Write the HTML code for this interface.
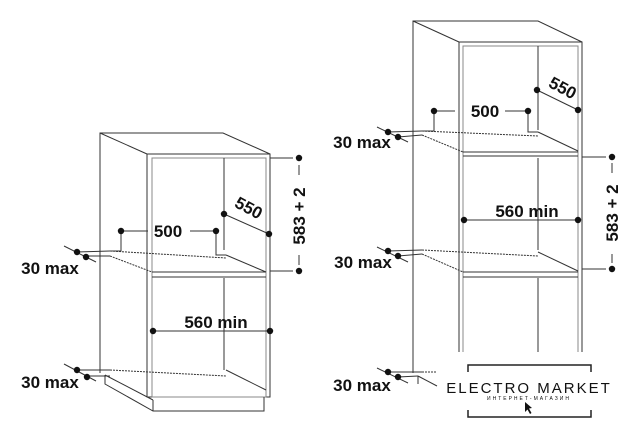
<!DOCTYPE html>
<html><head><meta charset="utf-8"><style>
html,body{margin:0;padding:0;background:#fff}
svg{display:block}
text{font-family:"Liberation Sans",sans-serif;font-weight:bold;fill:#111}
</style></head><body>
<svg width="636" height="431" viewBox="0 0 636 431" xmlns="http://www.w3.org/2000/svg">
<g stroke="#333" stroke-width="1" fill="none">
<!-- LEFT CABINET -->
<polyline points="100,373 100,133 223,133 270,154"/>
<line x1="100" y1="133" x2="147" y2="154"/>
<rect x="147" y="154" width="123" height="243"/>
<rect x="152" y="158" width="114" height="239" stroke="#888"/>
<line x1="224" y1="158" x2="224" y2="250"/>
<line x1="224" y1="278" x2="224" y2="370"/>
<line x1="152" y1="272" x2="266" y2="272"/>
<line x1="152" y1="277" x2="266" y2="277"/>
<line x1="226" y1="255" x2="266" y2="272"/>
<polyline points="216,231 216,255 226,255"/>
<polyline points="121,231 121,251 110,251"/>
<line x1="110" y1="251" x2="226" y2="258" stroke-dasharray="2,1"/>
<line x1="110" y1="256" x2="152" y2="272" stroke-dasharray="2,1"/>
<line x1="226" y1="370" x2="266" y2="390"/>
<line x1="110" y1="370" x2="226" y2="376" stroke-dasharray="2,1"/>
<line x1="105" y1="375" x2="153" y2="400"/>
<polyline points="105,375 105,384 153,411 264,411 264,397"/>
<line x1="153" y1="400" x2="153" y2="411"/>
<line x1="270" y1="158" x2="293" y2="158"/>
<line x1="270" y1="271" x2="293" y2="271"/>
<line x1="299" y1="165" x2="299" y2="175"/>
<line x1="299" y1="255" x2="299" y2="265"/>
<line x1="224" y1="214" x2="269" y2="234"/>
<line x1="121" y1="231" x2="148" y2="231"/>
<line x1="190" y1="231" x2="216" y2="231"/>
<line x1="153" y1="331" x2="270" y2="331"/>
<line x1="64" y1="246" x2="96" y2="262"/>
<line x1="77" y1="252" x2="110" y2="251"/>
<line x1="86" y1="256" x2="110" y2="256"/>
<line x1="64" y1="364" x2="96" y2="381"/>
<line x1="77" y1="370" x2="110" y2="370"/>
<line x1="87" y1="376" x2="110" y2="376"/>

<!-- RIGHT CABINET -->
<polyline points="413,373 413,21 538,21 582,42"/>
<line x1="413" y1="21" x2="459" y2="42"/>
<polyline points="459,352 459,42 582,42 582,352"/>
<polyline points="463,352 463,46 578,46 578,352" stroke="#888"/>
<line x1="538" y1="46" x2="538" y2="130"/>
<line x1="538" y1="158" x2="538" y2="250"/>
<line x1="538" y1="278" x2="538" y2="352"/>
<line x1="463" y1="152" x2="578" y2="152"/>
<line x1="463" y1="156" x2="578" y2="156"/>
<line x1="463" y1="272" x2="578" y2="272"/>
<line x1="463" y1="277" x2="578" y2="277"/>
<line x1="538" y1="132" x2="578" y2="151"/>
<line x1="538" y1="252" x2="578" y2="271"/>
<polyline points="528,111 528,132 538,132"/>
<polyline points="434,111 434,131 422,131"/>
<line x1="422" y1="131" x2="538" y2="136" stroke-dasharray="2,1"/>
<line x1="422" y1="135" x2="463" y2="152" stroke-dasharray="2,1"/>
<line x1="422" y1="250" x2="538" y2="256" stroke-dasharray="2,1"/>
<line x1="422" y1="254" x2="463" y2="272" stroke-dasharray="2,1"/>
<line x1="422" y1="372" x2="437" y2="372" stroke-dasharray="2,1"/>
<line x1="418" y1="376" x2="437" y2="386"/>
<line x1="418" y1="376" x2="418" y2="384"/>
<line x1="582" y1="157" x2="606" y2="157"/>
<line x1="582" y1="269" x2="606" y2="269"/>
<line x1="612" y1="163" x2="612" y2="173"/>
<line x1="612" y1="254" x2="612" y2="263"/>
<line x1="537" y1="90" x2="578" y2="110"/>
<line x1="434" y1="111" x2="455" y2="111"/>
<line x1="505" y1="111" x2="528" y2="111"/>
<line x1="464" y1="220" x2="578" y2="220"/>
<line x1="377" y1="127" x2="408" y2="142"/>
<line x1="388" y1="132" x2="422" y2="131"/>
<line x1="398" y1="137" x2="422" y2="135"/>
<line x1="377" y1="247" x2="408" y2="262"/>
<line x1="388" y1="251" x2="422" y2="250"/>
<line x1="398" y1="256" x2="422" y2="254"/>
<line x1="377" y1="368" x2="408" y2="383"/>
<line x1="388" y1="372" x2="422" y2="372"/>
<line x1="398" y1="377" x2="418" y2="376"/>
<!-- logo bracket -->
<polyline points="468,372 468,365 591,365 591,372" stroke="#222" stroke-width="1.5"/>
<polyline points="468,410 468,417 591,417 591,410" stroke="#222" stroke-width="1.5"/>
</g>
<g fill="#111">
<circle cx="299" cy="158" r="3.2"/><circle cx="299" cy="271" r="3.2"/>
<circle cx="224" cy="214" r="3.2"/><circle cx="269" cy="234" r="3.2"/>
<circle cx="121" cy="231" r="3.2"/><circle cx="216" cy="231" r="3.2"/>
<circle cx="153" cy="331" r="3.2"/><circle cx="270" cy="331" r="3.2"/>
<circle cx="77" cy="252" r="3.2"/><circle cx="86" cy="257" r="3.2"/>
<circle cx="77" cy="370" r="3.2"/><circle cx="87" cy="377" r="3.2"/>
<circle cx="612" cy="157" r="3.2"/><circle cx="612" cy="269" r="3.2"/>
<circle cx="537" cy="90" r="3.2"/><circle cx="578" cy="110" r="3.2"/>
<circle cx="434" cy="111" r="3.2"/><circle cx="528" cy="111" r="3.2"/>
<circle cx="464" cy="220" r="3.2"/><circle cx="578" cy="220" r="3.2"/>
<circle cx="388" cy="132" r="3.2"/><circle cx="398" cy="137" r="3.2"/>
<circle cx="388" cy="251" r="3.2"/><circle cx="398" cy="256" r="3.2"/>
<circle cx="388" cy="372" r="3.2"/><circle cx="398" cy="377" r="3.2"/>
</g>
<g font-size="17">
<text x="168" y="237" text-anchor="middle">500</text>
<text x="216" y="328" text-anchor="middle">560 min</text>
<text transform="translate(246,213) rotate(28)" text-anchor="middle">550</text>
<text transform="translate(305,216) rotate(-90)" text-anchor="middle">583 + 2</text>
<text x="50" y="274" text-anchor="middle">30 max</text>
<text x="50" y="388" text-anchor="middle">30 max</text>
<text x="485" y="117" text-anchor="middle">500</text>
<text x="527" y="217" text-anchor="middle">560 min</text>
<text transform="translate(560,93) rotate(28)" text-anchor="middle">550</text>
<text transform="translate(618,213) rotate(-90)" text-anchor="middle">583 + 2</text>
<text x="362" y="148" text-anchor="middle">30 max</text>
<text x="363" y="268" text-anchor="middle">30 max</text>
<text x="362" y="391" text-anchor="middle">30 max</text>
</g>
<text x="529" y="393" text-anchor="middle" font-size="15" style="font-weight:normal;letter-spacing:2px">ELECTRO MARKET</text>
<text x="529" y="400" text-anchor="middle" font-size="5" style="font-weight:normal;letter-spacing:2px">ИНТЕРНЕТ-МАГАЗИН</text>
<path d="M525,402 L525,412 L527.5,409.5 L530,414 L531.5,413 L529,408.5 L532,408 Z" fill="#111"/>
</svg>
</body></html>
